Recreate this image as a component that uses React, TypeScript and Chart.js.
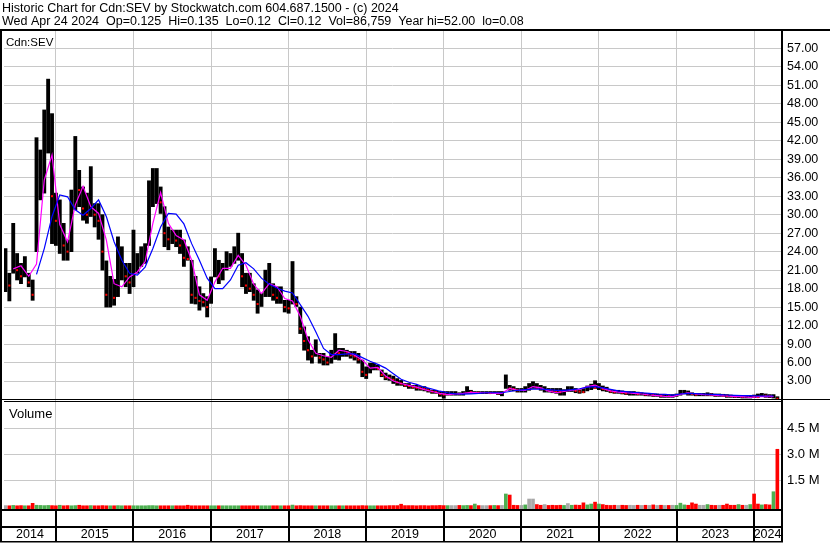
import React, { useEffect, useRef } from 'react';
import { Chart, registerables } from 'chart.js';

Chart.register(...registerables);

// ---------- data ----------
const HEADER_LINES = [
  'Historic Chart for Cdn:SEV by Stockwatch.com 604.687.1500 - (c) 2024',
  'Wed Apr 24 2024  Op=0.125  Hi=0.135  Lo=0.12  Cl=0.12  Vol=86,759  Year hi=52.00  lo=0.08',
];
const SYMBOL_LABEL = 'Cdn:SEV';
const VOLUME_LABEL = 'Volume';

const START_YEAR = 2014.35; // first bar (decimal year)
const BAR_STEP = 0.05; // years between bars
const MA_STEP = 0.1; // years between moving-average samples

const YEAR_BOUNDARIES = [2015, 2016, 2017, 2018, 2019, 2020, 2021, 2022, 2023, 2024];
const YEAR_LABELS = ['2014', '2015', '2016', '2017', '2018', '2019', '2020', '2021', '2022', '2023', '2024'];
const PRICE_TICKS = [3, 6, 9, 12, 15, 18, 21, 24, 27, 30, 33, 36, 39, 42, 45, 48, 51, 54, 57];
const VOLUME_TICKS = [1500000, 3000000, 4500000];

const HIGHS = [
  24.5, 20.5, 28.6, 23.7, 22.1, 23.2, 20.5, 19.4, 42.5, 40.5,
  47.0, 52.0, 46.4, 33.5, 32.4, 28.6, 25.9, 34.0, 42.7, 37.2,
  34.5, 33.5, 37.8, 31.8, 31.8, 30.0, 22.5, 20.0, 19.5, 26.4,
  24.8, 22.1, 22.1, 27.5, 23.7, 24.8, 25.3, 35.5, 37.5, 37.5,
  34.5, 31.3, 28.0, 27.5, 27.5, 27.5, 25.9, 24.8, 22.6, 20.0,
  18.3, 17.2, 16.7, 19.9, 24.5, 22.6, 22.1, 24.0, 23.7, 24.8,
  27.0, 23.7, 20.5, 20.5, 18.8, 17.8, 17.2, 21.0, 22.1, 18.8,
  18.3, 18.3, 16.1, 16.1, 22.4, 16.7, 15.0, 11.8, 10.2, 8.0,
  9.7, 7.5, 7.5, 6.9, 8.0, 10.7, 8.3, 8.3, 8.0, 7.8,
  7.8, 7.5, 6.4, 5.3, 5.9, 5.9, 5.6, 4.8, 4.3, 4.0,
  3.8, 3.4, 3.1, 2.6, 2.6, 2.3, 2.3, 2.1, 2.1, 1.8,
  1.5, 1.5, 1.3, 1.3, 1.3, 1.3, 1.3, 1.1, 1.3, 2.1,
  1.5, 1.3, 1.3, 1.3, 1.3, 1.3, 1.3, 1.3, 1.3, 4.0,
  2.3, 2.1, 1.8, 1.8, 2.1, 2.6, 2.9, 2.6, 2.3, 2.1,
  1.8, 1.8, 1.8, 1.8, 1.6, 2.1, 2.1, 1.8, 1.6, 1.8,
  2.2, 2.5, 3.05, 2.6, 2.2, 2.0, 1.6, 1.5, 1.5, 1.4,
  1.3, 1.3, 1.3, 1.2, 1.1, 1.0, 1.0, 0.9, 0.9, 0.85,
  0.85, 0.8, 0.8, 0.9, 1.5, 1.5, 1.4, 1.1, 1.0, 1.0,
  1.0, 1.1, 1.0, 0.9, 0.9, 0.85, 0.8, 0.73, 0.67, 0.67,
  0.6, 0.6, 0.6, 0.73, 0.9, 1.0, 0.9, 0.8, 0.8, 0.46,
];

const LOWS = [
  17.5, 16.0, 20.5, 19.4, 18.8, 19.9, 18.3, 16.1, 24.0, 32.4,
  33.5, 40.0, 25.3, 25.0, 23.7, 22.6, 22.6, 24.0, 30.8, 31.3,
  29.1, 28.6, 29.7, 28.0, 26.0, 21.0, 15.0, 15.0, 15.3, 16.7,
  19.4, 18.3, 17.2, 18.3, 20.5, 21.6, 22.1, 25.0, 31.3, 31.8,
  30.2, 24.8, 24.3, 25.3, 24.8, 23.7, 21.6, 22.6, 15.6, 15.5,
  14.5, 15.1, 13.4, 15.6, 19.9, 18.8, 19.4, 21.0, 21.6, 22.1,
  22.6, 18.3, 17.2, 17.5, 16.1, 14.0, 15.1, 16.7, 16.7, 16.1,
  15.6, 15.6, 14.2, 14.0, 15.5, 15.1, 10.7, 8.0, 6.4, 5.9,
  7.0, 5.9, 5.6, 5.6, 5.9, 6.5, 6.4, 7.0, 7.0, 6.7,
  6.4, 5.9, 3.7, 3.4, 4.3, 4.8, 4.8, 3.7, 3.2, 3.1,
  2.6, 2.3, 2.3, 2.1, 1.8, 1.8, 1.5, 1.5, 1.4, 1.2,
  1.0, 1.0, 0.5, 0.2, 0.7, 0.7, 0.7, 0.7, 0.7, 1.0,
  1.0, 1.0, 0.95, 0.95, 0.95, 0.95, 0.95, 0.8, 0.6, 1.8,
  1.5, 1.4, 1.2, 1.2, 1.2, 1.5, 1.8, 1.8, 1.5, 1.2,
  1.2, 1.1, 1.0, 0.7, 0.7, 1.3, 1.3, 1.1, 1.0, 1.1,
  1.4, 1.6, 1.8, 1.6, 1.4, 1.3, 1.1, 1.0, 1.0, 0.9,
  0.8, 0.7, 0.7, 0.7, 0.7, 0.6, 0.57, 0.5, 0.5, 0.35,
  0.35, 0.35, 0.35, 0.5, 0.7, 0.9, 0.7, 0.7, 0.6, 0.6,
  0.6, 0.6, 0.6, 0.5, 0.5, 0.5, 0.35, 0.35, 0.3, 0.3,
  0.24, 0.24, 0.24, 0.3, 0.35, 0.5, 0.35, 0.3, 0.24, 0.05,
];

const CLOSES = [
  19, 18.5, 22, 21, 20, 21, 19, 17, 33, 36,
  40, 44, 33, 29, 30, 25, 24, 30, 37, 34,
  31, 30, 33, 30, 29, 24, 17, 17.5, 16.5, 20,
  21, 20, 19, 20, 21.5, 23, 23.5, 32, 34, 35,
  32, 27, 26, 26.3, 25.8, 25, 23, 22.8, 17, 16.5,
  16, 15.8, 15, 18, 22, 20, 20.5, 22, 22.3, 23,
  24, 20, 18.5, 18, 17, 15.5, 16, 18, 19, 17,
  16.5, 17, 15, 14.8, 17.5, 15.5, 11.5, 9.5, 8, 7,
  8, 6.8, 6.5, 6, 6.5, 8, 7.5, 7.8, 7.5, 7.2,
  7, 6.5, 4.5, 4, 5, 5.2, 5, 4, 3.6, 3.5,
  3.2, 2.8, 2.6, 2.3, 2.2, 2.0, 1.9, 1.8, 1.7, 1.5,
  1.3, 1.2, 0.9, 0.8, 1.0, 1.0, 1.0, 0.9, 1.0, 1.5,
  1.2, 1.3, 1.1, 1.1, 1.1, 1.05, 1.1, 1.0, 1.0, 2.5,
  1.8, 1.7, 1.5, 1.5, 2.0, 2.0, 2.0, 1.9, 1.8, 1.8,
  1.5, 1.4, 1.3, 1.2, 1.4, 1.4, 1.6, 1.4, 1.3, 1.2,
  1.8, 2.0, 1.9, 2.0, 1.7, 1.6, 1.3, 1.2, 1.2, 1.1,
  1.0, 1.0, 1.0, 0.9, 0.9, 0.8, 0.8, 0.7, 0.7, 0.6,
  0.6, 0.55, 0.55, 0.7, 1.1, 1.2, 1.0, 0.9, 0.8, 0.8,
  0.8, 0.85, 0.8, 0.7, 0.7, 0.65, 0.6, 0.55, 0.5, 0.55,
  0.45, 0.45, 0.5, 0.45, 0.4, 0.7, 0.6, 0.55, 0.6, 0.12,
];

// volume in millions of shares
const VOLUMES_M = [
  0.04, 0.03, 0.05, 0.03, 0.04, 0.03, 0.03, 0.17, 0.06, 0.05,
  0.04, 0.05, 0.04, 0.03, 0.06, 0.03, 0.04, 0.03, 0.04, 0.06,
  0.03, 0.03, 0.04, 0.03, 0.03, 0.04, 0.03, 0.03, 0.03, 0.04,
  0.03, 0.03, 0.03, 0.03, 0.03, 0.03, 0.03, 0.04, 0.04, 0.03,
  0.03, 0.03, 0.03, 0.03, 0.03, 0.03, 0.03, 0.06, 0.03, 0.03,
  0.03, 0.03, 0.03, 0.03, 0.03, 0.03, 0.03, 0.03, 0.03, 0.03,
  0.03, 0.03, 0.03, 0.03, 0.03, 0.03, 0.03, 0.03, 0.03, 0.03,
  0.03, 0.03, 0.03, 0.03, 0.07, 0.03, 0.04, 0.03, 0.03, 0.03,
  0.03, 0.03, 0.03, 0.03, 0.03, 0.03, 0.03, 0.03, 0.03, 0.03,
  0.03, 0.03, 0.04, 0.03, 0.03, 0.03, 0.03, 0.03, 0.03, 0.04,
  0.04, 0.04, 0.12, 0.04, 0.04, 0.04, 0.03, 0.04, 0.04, 0.03,
  0.04, 0.04, 0.05, 0.04, 0.04, 0.04, 0.04, 0.05, 0.04, 0.05,
  0.04, 0.13, 0.04, 0.04, 0.04, 0.04, 0.05, 0.04, 0.05, 0.71,
  0.65, 0.06, 0.05, 0.05, 0.08, 0.42, 0.42, 0.10, 0.06, 0.10,
  0.05, 0.06, 0.05, 0.06, 0.05, 0.16, 0.06, 0.07, 0.06, 0.20,
  0.08, 0.13, 0.24, 0.13, 0.10, 0.06, 0.05, 0.06, 0.05, 0.06,
  0.05, 0.06, 0.05, 0.06, 0.05, 0.06, 0.05, 0.08, 0.05, 0.06,
  0.05, 0.05, 0.06, 0.05, 0.18, 0.08, 0.06, 0.20, 0.13, 0.06,
  0.06, 0.10, 0.06, 0.05, 0.06, 0.06, 0.13, 0.06, 0.06, 0.10,
  0.06, 0.06, 0.10, 0.71, 0.13, 0.08, 0.10, 0.08, 0.84, 3.29,
];

// short moving average (magenta)
const MA_SHORT = [
  null, 21.2, 21.7, 20.0, 22.0, 35.6, 39.7, 28.4, 25.6, 31.6,
  34.6, 31.3, 30.2, 25.9, 18.8, 18.3, 19.9, 20.7, 22.4, 28.6,
  33.6, 28.6, 26.6, 25.9, 22.6, 17.0, 16.1, 19.1, 21.3, 21.3,
  23.4, 21.8, 18.7, 17.2, 18.8, 18.3, 16.4, 16.0, 13.5, 9.7,
  7.5, 7.1, 6.85, 8.0, 7.8, 7.2, 6.4, 5.1, 5.2, 3.8,
  3.0, 2.6, 2.3, 2.0, 1.6, 1.3, 1.0, 0.8, 0.9, 1.0,
  1.15, 1.1, 1.1, 1.0, 1.0, 1.8, 1.5, 1.5, 2.1, 1.9,
  1.35, 1.1, 1.3, 1.5, 1.65, 2.1, 2.35, 1.8, 1.4, 1.2,
  1.1, 1.0, 0.9, 0.73, 0.62, 0.5, 0.46, 0.84, 1.1, 0.9,
  0.78, 0.73, 0.62, 0.57, 0.46, 0.46, 0.35, 0.46, 0.5, 0.46,
];

// long moving average (blue)
const MA_LONG = [
  null, null, null, null, 20.3, 24.5, 29.7, 33.2, 32.9, 30.8,
  29.9, 31.0, 32.4, 29.7, 25.6, 22.6, 20.5, 20.2, 21.5, 24.5,
  28.0, 30.2, 30.1, 28.5, 25.3, 22.6, 19.7, 18.0, 18.0, 19.4,
  21.8, 22.2, 21.2, 19.7, 18.7, 18.1, 17.6, 17.3, 15.4, 13.5,
  11.0, 8.3, 7.3, 7.3, 7.4, 7.4, 6.8, 6.2, 5.7, 5.1,
  4.2, 3.3, 2.8, 2.45, 2.0, 1.7, 1.35, 1.1, 0.93, 0.88,
  0.93, 1.0, 1.1, 1.1, 1.1, 1.3, 1.5, 1.6, 1.7, 1.7,
  1.6, 1.5, 1.5, 1.6, 1.75, 2.0, 2.1, 1.9, 1.65, 1.4,
  1.27, 1.16, 1.1, 1.0, 0.9, 0.84, 0.73, 0.9, 1.0, 0.95,
  0.9, 0.84, 0.78, 0.73, 0.67, 0.62, 0.62, 0.57, 0.57, 0.57,
];

// ---------- axis ranges (layout) ----------
const X_MIN = 2014.331;
const X_MAX = 2024.347;
const PRICE_MIN = -0.24;
const PRICE_MAX = 59.81;
const VOL_MIN = -156000;
const VOL_MAX = 6075000;
const PRICE_PANEL_WEIGHT = 370;
const VOLUME_PANEL_WEIGHT = 108;

const FONT = "'Liberation Sans', Arial, sans-serif";
const GRID = '#c8c8c8';

const direction = (i: number) => (i === 0 ? 0 : Math.sign(CLOSES[i] - CLOSES[i - 1]));
const barX = (i: number) => START_YEAR + i * BAR_STEP;
const maX = (k: number) => START_YEAR + k * MA_STEP;

const yearLabelPositions = YEAR_LABELS.map((_, i) => {
  const start = i === 0 ? X_MIN : YEAR_BOUNDARIES[i - 1];
  const end = i === YEAR_LABELS.length - 1 ? X_MAX : YEAR_BOUNDARIES[i];
  return (start + end) / 2;
});

const framePlugin = {
  id: 'stockwatchFrame',
  afterDraw(chart: any) {
    const { ctx, chartArea, scales } = chart;
    const { left, right, top, bottom } = chartArea;
    const W = chart.width;
    const H = chart.height;
    const xs = scales.x;
    const zeroRow = Math.floor(scales.y.getPixelForValue(0));
    ctx.save();
    ctx.fillStyle = '#000';
    // header separator
    ctx.fillRect(0, top - 2, W, 2);
    // left border
    ctx.fillRect(0, top, 2, H - top - 1);
    // right axis line
    ctx.fillRect(right, top, 2, H - top - 1);
    // price panel bottom (double line)
    ctx.fillRect(0, zeroRow, W, 1);
    ctx.fillRect(left, zeroRow + 2, right - left, 1);
    // volume panel bottom
    ctx.fillRect(0, bottom, right + 2, 2);
    // x-axis row separator
    ctx.fillRect(0, xs.bottom, right + 2, 2);
    // bottom border
    ctx.fillRect(0, H - 2, right + 2, 1.5);
    // year separators in axis rows
    YEAR_BOUNDARIES.forEach((yr) => {
      const px = Math.round(xs.getPixelForValue(yr));
      ctx.fillRect(px - 1, bottom, 2, H - 2 - bottom);
    });
    // panel labels
    ctx.textBaseline = 'alphabetic';
    ctx.textAlign = 'left';
    ctx.font = `11.5px ${FONT}`;
    ctx.fillText(SYMBOL_LABEL, 6, 46);
    ctx.font = `13px ${FONT}`;
    ctx.fillText(VOLUME_LABEL, 9, 418);
    ctx.restore();
  },
};

export default function App() {
  const ref = useRef<HTMLCanvasElement | null>(null);

  useEffect(() => {
    const canvas = ref.current;
    if (!canvas) return;

    const priceBars = HIGHS.map((h, i) => ({ x: barX(i), y: [LOWS[i], h] }));
    const closePoints = CLOSES.map((c, i) => ({ x: barX(i), y: c }));
    const volumeBars = VOLUMES_M.map((v, i) => ({ x: barX(i), y: v * 1000000 }));
    const shortMa = MA_SHORT.map((v, k) => (v == null ? null : { x: maX(k), y: v })).filter(Boolean);
    const longMa = MA_LONG.map((v, k) => (v == null ? null : { x: maX(k), y: v })).filter(Boolean);

    const chart = new Chart(canvas, {
      type: 'bar',
      data: {
        datasets: [
          {
            type: 'bar',
            label: 'Range',
            xAxisID: 'x',
            yAxisID: 'y',
            data: priceBars as any,
            backgroundColor: '#000000',
            borderWidth: 0,
            barThickness: 3.2,
            grouped: false,
            order: 5,
          },
          {
            type: 'line',
            label: 'Close',
            xAxisID: 'x',
            yAxisID: 'y',
            data: closePoints as any,
            showLine: false,
            pointStyle: 'rect',
            pointRadius: (c: any) => (direction(c.dataIndex) < 0 ? 1.45 : 0),
            pointBackgroundColor: '#ff0000',
            pointBorderWidth: 0,
            order: 4,
          },
          {
            type: 'bar',
            label: 'Volume',
            xAxisID: 'x',
            yAxisID: 'yv',
            data: volumeBars as any,
            base: VOL_MIN,
            backgroundColor: (c: any) => {
              const d = direction(c.dataIndex);
              return d > 0 ? '#4caf50' : d < 0 ? '#ff0000' : '#a8a8a8';
            },
            borderWidth: 0,
            barThickness: 3,
            grouped: false,
            order: 3,
          } as any,
          {
            type: 'line',
            label: 'Short MA',
            xAxisID: 'x',
            yAxisID: 'y',
            data: shortMa as any,
            borderColor: '#ff00ff',
            borderWidth: 1.2,
            pointRadius: 0,
            tension: 0,
            order: 2,
          },
          {
            type: 'line',
            label: 'Long MA',
            xAxisID: 'x',
            yAxisID: 'y',
            data: longMa as any,
            borderColor: '#0000ff',
            borderWidth: 1.2,
            pointRadius: 0,
            tension: 0,
            order: 1,
          },
        ],
      },
      options: {
        animation: false,
        responsive: false,
        devicePixelRatio: 1,
        events: [],
        layout: { padding: { left: 2, right: 0, top: 0, bottom: 0 } },
        plugins: {
          legend: { display: false },
          tooltip: { enabled: false },
          title: {
            display: true,
            text: HEADER_LINES,
            align: 'start',
            color: '#000',
            fullSize: true,
            font: { family: FONT, size: 12.5, weight: 'normal', lineHeight: '13.4px' },
            padding: { top: 1.5, bottom: 2.7 },
          },
        },
        scales: {
          x: {
            type: 'linear',
            position: 'bottom',
            min: X_MIN,
            max: X_MAX,
            offset: false,
            weight: 0,
            grid: { color: GRID, lineWidth: 1, drawTicks: false, offset: false },
            border: { display: false },
            ticks: { display: false },
            afterBuildTicks: (s: any) => {
              s.ticks = YEAR_BOUNDARIES.map((v) => ({ value: v }));
            },
            afterFit: (s: any) => {
              s.height = 17;
            },
          },
          x2: {
            type: 'linear',
            position: 'bottom',
            min: X_MIN,
            max: X_MAX,
            offset: false,
            weight: 1,
            grid: { display: false, drawTicks: false, offset: false },
            border: { display: false },
            ticks: {
              autoSkip: false,
              maxRotation: 0,
              minRotation: 0,
              padding: 1.5,
              color: '#000',
              font: { family: FONT, size: 12.5 },
              callback: (_v: any, i: number) => YEAR_LABELS[i],
            },
            afterBuildTicks: (s: any) => {
              s.ticks = yearLabelPositions.map((v) => ({ value: v }));
            },
            afterFit: (s: any) => {
              s.height = 17;
            },
          },
          y: {
            type: 'linear',
            position: 'right',
            stack: 'panels',
            stackWeight: PRICE_PANEL_WEIGHT,
            min: PRICE_MIN,
            max: PRICE_MAX,
            weight: 0,
            grid: { color: GRID, lineWidth: 1, drawTicks: false },
            border: { display: false },
            ticks: {
              autoSkip: false,
              padding: 6,
              color: '#000',
              font: { family: FONT, size: 12.5 },
              callback: (v: any) => Number(v).toFixed(2),
            },
            afterBuildTicks: (s: any) => {
              s.ticks = PRICE_TICKS.map((v) => ({ value: v }));
            },
            afterFit: (s: any) => {
              s.width = 49;
            },
          },
          yv: {
            type: 'linear',
            position: 'right',
            stack: 'panels',
            stackWeight: VOLUME_PANEL_WEIGHT,
            min: VOL_MIN,
            max: VOL_MAX,
            weight: 0,
            grid: { color: GRID, lineWidth: 1, drawTicks: false },
            border: { display: false },
            ticks: {
              autoSkip: false,
              padding: 6,
              color: '#000',
              font: { family: FONT, size: 13 },
              callback: (v: any) => (Number(v) / 1000000).toFixed(1) + ' M',
            },
            afterBuildTicks: (s: any) => {
              s.ticks = VOLUME_TICKS.map((v) => ({ value: v }));
            },
            afterFit: (s: any) => {
              s.width = 49;
            },
          },
        },
      } as any,
      plugins: [framePlugin],
    });

    return () => chart.destroy();
  }, []);

  return (
    <div style={{ position: 'fixed', left: 0, top: 0, width: 830, height: 543, background: '#ffffff' }}>
      <canvas ref={ref} width={830} height={543} style={{ display: 'block', width: 830, height: 543 }} />
    </div>
  );
}
